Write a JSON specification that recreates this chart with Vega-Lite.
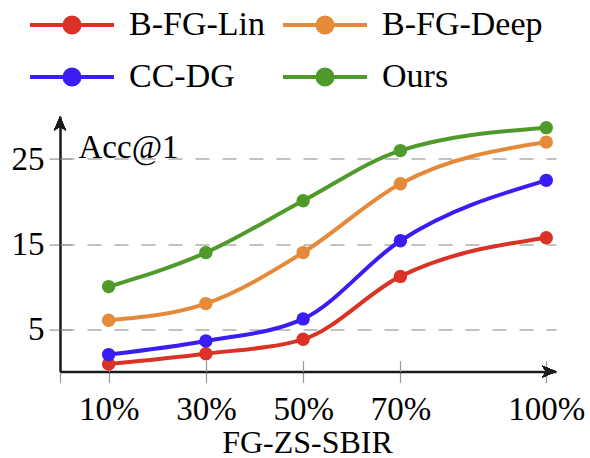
{
  "$schema": "https://vega.github.io/schema/vega-lite/v6.json",
  "autosize": "none",
  "width": 496,
  "height": 255,
  "padding": {"left": 60, "top": 116.6, "right": 34, "bottom": 86.4},
  "background": "white",
  "config": {
    "view": {"stroke": null},
    "font": "Liberation Serif"
  },
  "data": {
    "values": [
      {"method": "B-FG-Lin", "pct": 10, "acc": 0.9},
      {"method": "B-FG-Lin", "pct": 30, "acc": 2.1},
      {"method": "B-FG-Lin", "pct": 50, "acc": 3.8},
      {"method": "B-FG-Lin", "pct": 70, "acc": 11.2},
      {"method": "B-FG-Lin", "pct": 100, "acc": 15.75},
      {"method": "B-FG-Deep", "pct": 10, "acc": 6.05},
      {"method": "B-FG-Deep", "pct": 30, "acc": 8.0},
      {"method": "B-FG-Deep", "pct": 50, "acc": 14.0},
      {"method": "B-FG-Deep", "pct": 70, "acc": 22.1},
      {"method": "B-FG-Deep", "pct": 100, "acc": 27.0},
      {"method": "CC-DG", "pct": 10, "acc": 2.0},
      {"method": "CC-DG", "pct": 30, "acc": 3.6},
      {"method": "CC-DG", "pct": 50, "acc": 6.2},
      {"method": "CC-DG", "pct": 70, "acc": 15.4},
      {"method": "CC-DG", "pct": 100, "acc": 22.5},
      {"method": "Ours", "pct": 10, "acc": 10.0},
      {"method": "Ours", "pct": 30, "acc": 14.0},
      {"method": "Ours", "pct": 50, "acc": 20.1},
      {"method": "Ours", "pct": 70, "acc": 26.0},
      {"method": "Ours", "pct": 100, "acc": 28.7}
    ]
  },
  "resolve": {"axis": {"x": "independent", "y": "independent"}},
  "layer": [
    {
      "mark": {"type": "line", "interpolate": "monotone", "strokeWidth": 4},
      "encoding": {
        "x": {
          "field": "pct", "type": "quantitative",
          "scale": {"domain": [0, 102], "nice": false, "zero": false},
          "axis": {
            "orient": "bottom",
            "values": [0, 10, 30, 50, 70, 100],
            "labelExpr": "datum.value == 0 ? '' : datum.value + '%'",
            "grid": false,
            "domainColor": "#1a1a1a", "domainWidth": 2.5,
            "tickColor": "#999999", "tickWidth": 1.2, "tickSize": 11,
            "labelFont": "Liberation Serif", "labelFontSize": 33, "labelColor": "black",
            "labelPadding": 11, "labelBaseline": "top",
            "title": "FG-ZS-SBIR",
            "titleFont": "Liberation Serif", "titleFontSize": 32, "titleFontWeight": "normal", "titleColor": "black",
            "titleX": 247, "titleY": 80.5, "titleAlign": "center", "titleBaseline": "alphabetic"
          }
        },
        "y": {
          "field": "acc", "type": "quantitative",
          "scale": {"domain": [0, 30], "nice": false},
          "axis": {
            "orient": "left",
            "values": [5, 15, 25],
            "grid": true, "gridDash": [14, 13], "gridColor": "#c2c2c2", "gridWidth": 2,
            "domainColor": "#1a1a1a", "domainWidth": 2.5,
            "tickColor": "#999999", "tickWidth": 1.2, "tickSize": 11,
            "labelFont": "Liberation Serif", "labelFontSize": 33, "labelColor": "black",
            "labelPadding": 5,
            "title": "Acc@1",
            "titleFont": "Liberation Serif", "titleFontSize": 33, "titleFontWeight": "normal", "titleColor": "black",
            "titleAngle": 0, "titleX": 18, "titleY": 40.4, "titleAlign": "left", "titleBaseline": "alphabetic"
          }
        },
        "color": {
          "field": "method", "type": "nominal",
          "scale": {
            "domain": ["B-FG-Lin", "B-FG-Deep", "CC-DG", "Ours"],
            "range": ["#db3226", "#e58a38", "#3a1cf5", "#4f9a2b"]
          },
          "legend": {
            "orient": "none", "legendX": -32, "legendY": -111.6,
            "direction": "horizontal", "columns": 2,
            "title": null, "padding": 0,
            "symbolType": "M-1,0H1M-0.18,0A0.18,0.18,0,1,0,0.18,0A0.18,0.18,0,1,0,-0.18,0Z",
            "symbolSize": 7056, "symbolStrokeWidth": 4,
            "clipHeight": 40, "rowPadding": 12, "columnPadding": 16,
            "labelOffset": 13, "labelFont": "Liberation Serif", "labelFontSize": 34, "labelColor": "black",
            "labelLimit": 400,
            "encode": {"symbols": {"update": {"fill": {"scale": "color", "field": "value"}, "opacity": {"value": 1}}}}
          }
        }
      }
    },
    {
      "mark": {"type": "point", "filled": true, "size": 180, "opacity": 1},
      "encoding": {
        "x": {
          "field": "pct", "type": "quantitative",
          "axis": {
            "orient": "bottom", "values": [0, 10, 30, 50, 70, 100],
            "labels": false, "domain": false, "grid": false, "title": null,
            "tickColor": "#999999", "tickWidth": 1.2, "tickSize": -11
          }
        },
        "y": {
          "field": "acc", "type": "quantitative",
          "axis": {
            "orient": "left", "values": [5, 15, 25],
            "labels": false, "domain": false, "grid": false, "title": null,
            "tickColor": "#999999", "tickWidth": 1.2, "tickSize": -11
          }
        },
        "color": {"field": "method", "type": "nominal", "legend": null}
      }
    },
    {
      "mark": {"type": "point", "filled": true, "opacity": 1, "color": "#1a1a1a", "size": 196,
               "shape": "M1,0L-1,-0.85L-0.45,0L-1,0.85Z"},
      "encoding": {
        "x": {"datum": 100.6, "type": "quantitative", "axis": null},
        "y": {"datum": 0, "type": "quantitative", "axis": null}
      }
    },
    {
      "mark": {"type": "point", "filled": true, "opacity": 1, "color": "#1a1a1a", "size": 196,
               "shape": "M0,-1L-0.85,1L0,0.45L0.85,1Z"},
      "encoding": {
        "x": {"datum": 0, "type": "quantitative", "axis": null},
        "y": {"datum": 29.2, "type": "quantitative", "axis": null}
      }
    }
  ]
}
